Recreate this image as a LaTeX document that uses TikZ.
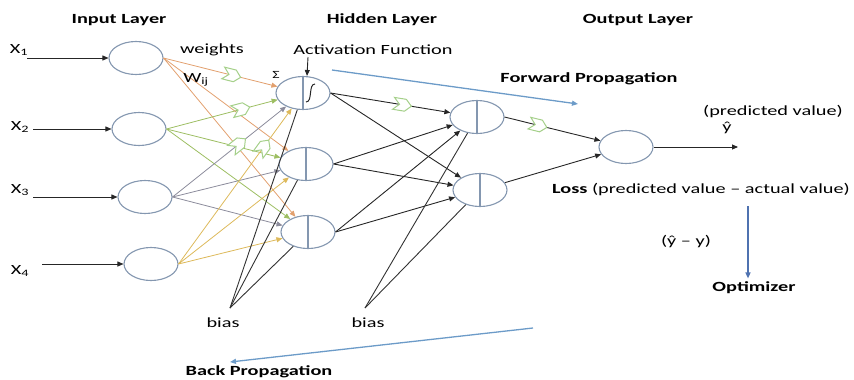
\documentclass[tikz,border=0pt]{standalone}
\usepackage{fontspec}
\setmainfont{Carlito}[FakeStretch=1.45]
\usepackage{tikz}
\usetikzlibrary{arrows.meta,shapes.geometric,shapes.symbols,calc}

\definecolor{nodeline}{HTML}{8497B0}
\definecolor{wone}{HTML}{E2A06E}
\definecolor{wtwo}{HTML}{9DBE62}
\definecolor{wthree}{HTML}{8C8C9C}
\definecolor{wfour}{HTML}{DDB95A}
\definecolor{chev}{HTML}{A5D08A}
\definecolor{propblue}{HTML}{6C9BC8}
\definecolor{optblue}{HTML}{4F72B0}

\begin{document}
\begin{tikzpicture}[x=1pt,y=-1pt,
  font=\fontsize{14}{16}\selectfont,
  neuron/.style={ellipse,draw=nodeline,line width=1.1pt,minimum width=54pt,minimum height=33pt,inner sep=0pt},
  hneuron/.style={neuron,path picture={\draw[nodeline,line width=1.1pt] (path picture bounding box.north) -- (path picture bounding box.south);}},
  wtip/.style={-{Triangle[length=6pt,width=5pt]}},
  wline/.style={wtip,line width=0.8pt},
  link/.style={wtip,line width=0.9pt,black!85},
  biasline/.style={line width=0.9pt,black!80},
  chevron/.style={signal,signal from=west,signal to=east,draw=chev,fill=white,line width=1pt,minimum width=18pt,minimum height=12pt,inner sep=0pt,sloped},
  propline/.style={propblue,line width=1.3pt,-{Triangle[length=6pt,width=5pt]}},
  layername/.style={font=\fontsize{14}{16}\selectfont\bfseries}
]
\useasboundingbox (0,0) rectangle (854,380);

\node[layername] (inl) at (119,20) {Input Layer};
\node[layername] (hidl) at (382,20) {Hidden Layer};
\node[layername] (outl) at (638,20) {Output Layer};

\node (x1) at (19,50) {X\textsubscript{1}};
\node (x2) at (20,127) {X\textsubscript{2}};
\node (x3) at (20,190) {X\textsubscript{3}};
\node (x4) at (20,271) {X\textsubscript{4}};

\node[neuron] (i1) at (136,58) {};
\node[neuron] (i2) at (139,129) {};
\node[neuron] (i3) at (145,197) {};
\node[neuron] (i4) at (151,264) {};

\node[hneuron] (h1) at (303,93) {};
\node[hneuron] (h2) at (306,164) {};
\node[hneuron] (h3) at (308,232) {};

\node[hneuron] (g1) at (477,117) {};
\node[hneuron] (g2) at (480,190) {};

\node[neuron] (o) at (626,147) {};

\draw[black!85,line width=1pt] ($(h1)+(3,9)$) .. controls ($(h1)+(10,9)$) and ($(h1)+(5,-9)$) .. ($(h1)+(12,-9)$);

\coordinate (a1) at (27,58);
\coordinate (a2) at (33,129);
\coordinate (a3) at (33,197);
\coordinate (a4) at (42,264);
\draw[link] (a1) -- (i1.west);
\draw[link] (a2) -- (i2.west);
\draw[link] (a3) -- (i3.west);
\draw[link] (a4) -- (i4.west);

\draw[wline,wone] (i1.east) -- (h2);
\draw[wline,wone] (i1.east) -- (h3);
\draw[wline,wtwo] (i2.east) -- (h2);
\draw[wline,wtwo] (i2.east) -- (h3);
\draw[wline,wthree] (i3.east) -- (h2);
\draw[wline,wthree] (i3.east) -- (h3);
\draw[wline,wfour] (i4.east) -- (h2);
\draw[wline,wfour] (i4.east) -- (h3);
\draw[wline,wone] (i1.east) -- node[chevron,pos=0.6] (c1) {} (h1);
\draw[wline,wtwo] (i2.east) -- node[chevron,pos=0.67] (c2) {} (h1);
\draw[wline,wthree] (i3.east) -- node[chevron,pos=0.58] (c3) {} (h1);
\draw[wline,wfour] (i4.east) -- node[chevron,pos=0.75] (c4) {} (h1);

\node (wts) at (212,50) {weights};
\node (wij) at (196,80) {W\textsubscript{ij}};
\node[font=\fontsize{11}{12}\selectfont] (sig) at (276,75) {Σ};
\node (act) at (373,50) {Activation Function};
\coordinate (ac) at (308,57);
\draw[link] (ac) -- ([xshift=4pt]h1.north);

\draw[link] (h1.east) -- (g2);
\draw[link] (h2.east) -- (g1);
\draw[link] (h2.east) -- (g2);
\draw[link] (h3.east) -- (g1);
\draw[link] (h3.east) -- (g2);
\draw[link] (h1.east) -- node[chevron,pos=0.6] (c5) {} (g1);

\draw[link] (g1.east) -- node[chevron,pos=0.35] (c6) {} (o);
\draw[link] (g2) -- (o);

\coordinate (b1) at (230,308);
\coordinate (b2) at (365,308);
\draw[biasline] (b1) -- (h1);
\draw[biasline] (b1) -- (h2);
\draw[biasline] (b1) -- (h3);
\draw[biasline] (b2) -- (g1);
\draw[biasline] (b2) -- (g2);
\node (bias1) at (223,323) {bias};
\node (bias2) at (368,323) {bias};

\coordinate (yend) at (738,147);
\draw[link] (o.east) -- (yend);
\node (pv) at (773,112) {(predicted value)};
\node (yhat) at (727,128) {ŷ};

\node[layername] (fwd) at (589,79) {Forward Propagation};
\coordinate (f1) at (332,70);
\coordinate (f2) at (578,104);
\draw[propline] (f1) -- (f2);

\node (loss) at (701,190) {\textbf{Loss} (predicted value – actual value)};
\node (diff) at (686,242) {(ŷ – y)};
\node[layername] (optim) at (754,288) {Optimizer};
\coordinate (l1) at (748,206);
\draw[propline,optblue] (l1) -- ([xshift=-6pt]optim.north);

\coordinate (k1) at (533,328);
\coordinate (k2) at (230,362);
\draw[propline] (k1) -- (k2);
\node[layername] (bwd) at (259,372) {Back Propagation};
\end{tikzpicture}
\end{document}
